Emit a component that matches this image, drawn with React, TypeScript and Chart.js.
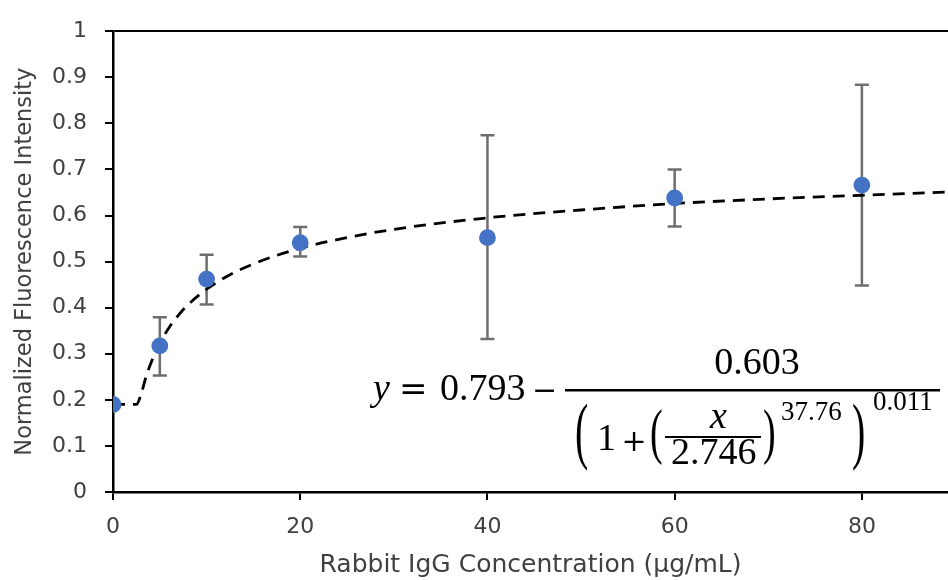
import React, { useEffect, useRef } from 'react';
import { Chart, registerables } from 'chart.js';

Chart.register(...registerables);

// ---- data ----
const concentrations = [0, 5, 10, 20, 40, 60, 80];
const intensity = [0.19, 0.317, 0.462, 0.541, 0.552, 0.638, 0.666];
const errLow = [0.19, 0.253, 0.407, 0.511, 0.332, 0.576, 0.448];
const errHigh = [0.19, 0.379, 0.515, 0.575, 0.774, 0.7, 0.884];

const fitX = [0, 2.5, 3, 3.5, 4, 4.5, 5, 6, 7, 8, 10, 12, 15, 20, 25, 30, 40, 50, 60, 70, 80, 89.2];
const fitY = [0.19, 0.19, 0.212, 0.248, 0.277, 0.302, 0.323, 0.357, 0.384, 0.406, 0.44, 0.466, 0.495, 0.529, 0.552, 0.57, 0.595, 0.612, 0.626, 0.636, 0.644, 0.651];

const xTicks = [0, 20, 40, 60, 80];
const yTicks = [0, 0.1, 0.2, 0.3, 0.4, 0.5, 0.6, 0.7, 0.8, 0.9, 1];

const xTitle = 'Rabbit IgG Concentration (µg/mL)';
const yTitle = 'Normalized Fluorescence Intensity';

const TEXT = '#404040';
const SANS = '"DejaVu Sans", sans-serif';
const SERIF = '"Liberation Serif", serif';
const SERIF2 = '"DejaVu Serif", serif';

type Place = { left?: number; cx?: number; baseline?: number; cy?: number };

function place(ctx: CanvasRenderingContext2D, text: string, font: string, p: Place) {
  ctx.font = font;
  ctx.textAlign = 'left';
  ctx.textBaseline = 'alphabetic';
  const m = ctx.measureText(text);
  let dx = 0;
  let dy = 0;
  if (p.left !== undefined) dx = p.left + m.actualBoundingBoxLeft;
  else if (p.cx !== undefined) dx = p.cx - (m.actualBoundingBoxRight - m.actualBoundingBoxLeft) / 2;
  if (p.baseline !== undefined) dy = p.baseline;
  else if (p.cy !== undefined) dy = p.cy - (m.actualBoundingBoxDescent - m.actualBoundingBoxAscent) / 2;
  ctx.fillText(text, dx, dy);
}

// draw a delimiter glyph stretched vertically to span [top, bottom]
function stretchGlyph(ctx: CanvasRenderingContext2D, text: string, font: string, left: number, top: number, bottom: number) {
  ctx.font = font;
  ctx.textAlign = 'left';
  ctx.textBaseline = 'alphabetic';
  const m = ctx.measureText(text);
  const h = m.actualBoundingBoxAscent + m.actualBoundingBoxDescent;
  const sy = (bottom - top) / h;
  ctx.save();
  ctx.translate(left + m.actualBoundingBoxLeft, top);
  ctx.scale(1, sy);
  ctx.fillText(text, 0, m.actualBoundingBoxAscent);
  ctx.restore();
}

const errorBarPlugin = {
  id: 'errorBars',
  beforeDatasetsDraw(chart: any) {
    const { ctx, scales } = chart;
    const xs = scales.x;
    const ys = scales.y;
    ctx.save();
    ctx.strokeStyle = '#6e6e6e';
    ctx.lineWidth = 2.5;
    for (let i = 0; i < concentrations.length; i++) {
      const px = xs.getPixelForValue(concentrations[i]);
      const lo = ys.getPixelForValue(errLow[i]);
      const hi = ys.getPixelForValue(errHigh[i]);
      if (Math.abs(lo - hi) < 1) continue;
      ctx.beginPath();
      ctx.moveTo(px, lo);
      ctx.lineTo(px, hi);
      ctx.moveTo(px - 7, lo);
      ctx.lineTo(px + 7, lo);
      ctx.moveTo(px - 7, hi);
      ctx.lineTo(px + 7, hi);
      ctx.stroke();
    }
    ctx.restore();
  },
};

const equationPlugin = {
  id: 'equation',
  afterDraw(chart: any) {
    const ctx: CanvasRenderingContext2D = chart.ctx;
    ctx.save();
    ctx.fillStyle = '#000';
    const M = `38px ${SERIF}`;
    const MI = `italic 38px ${SERIF}`;
    const S = `27px ${SERIF}`;
    const O = `34px ${SERIF2}`;
    const OS = `30px ${SERIF2}`;
    place(ctx, 'y', MI, { left: 369, baseline: 400 });
    place(ctx, '=', O, { left: 402, cy: 389 });
    place(ctx, '0.793', M, { left: 441, baseline: 400 });
    place(ctx, '−', OS, { left: 535, cy: 390 });
    ctx.fillRect(565, 389, 375, 2.5);
    place(ctx, '0.603', M, { cx: 757, baseline: 374 });
    stretchGlyph(ctx, '(', `40px ${SERIF}`, 576, 404, 472);
    place(ctx, '1', M, { left: 600, baseline: 450 });
    place(ctx, '+', OS, { cx: 634, cy: 441 });
    stretchGlyph(ctx, '(', `38px ${SERIF}`, 651, 408, 467);
    place(ctx, 'x', MI, { cx: 718, baseline: 428 });
    ctx.fillRect(665, 436, 96, 2);
    place(ctx, '2.746', M, { left: 672, baseline: 464 });
    stretchGlyph(ctx, ')', `38px ${SERIF}`, 764, 408, 467);
    place(ctx, '37.76', S, { left: 782, baseline: 420 });
    stretchGlyph(ctx, ')', `40px ${SERIF}`, 853, 404, 472);
    place(ctx, '0.011', S, { left: 874, baseline: 410 });
    ctx.restore();
  },
};

export default function App() {
  const canvasRef = useRef<HTMLCanvasElement | null>(null);

  useEffect(() => {
    if (!canvasRef.current) return;
    const chart = new Chart(canvasRef.current, {
      type: 'scatter',
      data: {
        datasets: [
          {
            type: 'scatter',
            label: 'Measured',
            data: concentrations.map((x, i) => ({ x, y: intensity[i] })),
            backgroundColor: '#4472C4',
            borderWidth: 0,
            pointRadius: 8.4,
            pointHoverRadius: 8.4,
            order: 0,
          },
          {
            type: 'line',
            label: 'Fit',
            data: fitX.map((x, i) => ({ x, y: fitY[i] })),
            borderColor: '#000',
            borderWidth: 2.8,
            borderDash: [12, 8],
            pointRadius: 0,
            fill: false,
            cubicInterpolationMode: 'monotone',
            order: 1,
          } as any,
        ],
      },
      options: {
        animation: false,
        responsive: false,
        events: [],
        layout: { autoPadding: false, padding: { top: 22, left: 0, right: 0, bottom: 0 } },
        plugins: {
          legend: { display: false },
          tooltip: { enabled: false },
        },
        scales: {
          x: {
            type: 'linear',
            min: 0,
            max: 89.2,
            afterFit: (s: any) => {
              s.height = 88;
            },
            afterBuildTicks: (s: any) => {
              s.ticks = xTicks.map((v) => ({ value: v }));
            },
            grid: {
              drawOnChartArea: false,
              color: '#000',
              tickColor: '#000',
              tickLength: 8,
              lineWidth: 2,
            },
            border: { display: true, color: '#000', width: 2.5 },
            ticks: {
              color: TEXT,
              padding: 14,
              font: { family: SANS, size: 22 },
              callback: (v: any) => String(v),
            },
            title: {
              display: true,
              text: xTitle,
              color: TEXT,
              padding: { top: 0, bottom: 0 },
              font: { family: SANS, size: 25 },
            },
          },
          y: {
            type: 'linear',
            min: 0,
            max: 1,
            afterFit: (s: any) => {
              s.width = 113;
            },
            afterBuildTicks: (s: any) => {
              s.ticks = yTicks.map((v) => ({ value: v }));
            },
            grid: {
              drawOnChartArea: true,
              color: (c: any) => (c.tick && c.tick.value === 1 ? '#000' : 'rgba(0,0,0,0)'),
              tickColor: '#000',
              tickLength: 8,
              lineWidth: 2,
            },
            border: { display: true, color: '#000', width: 2.5 },
            ticks: {
              color: TEXT,
              padding: 18,
              font: { family: SANS, size: 22 },
              callback: (v: any) => String(Math.round(Number(v) * 10) / 10),
            },
            title: {
              display: true,
              text: yTitle,
              color: TEXT,
              padding: { top: 12, bottom: 0 },
              font: { family: SANS, size: 22.5 },
            },
          },
        },
      },
      plugins: [errorBarPlugin, equationPlugin],
    } as any);
    return () => chart.destroy();
  }, []);

  return (
    <div style={{ position: 'absolute', left: 0, top: 0, width: 948, height: 580, background: '#fff' }}>
      <canvas ref={canvasRef} width={948} height={580} style={{ width: 948, height: 580, display: 'block' }} />
    </div>
  );
}
